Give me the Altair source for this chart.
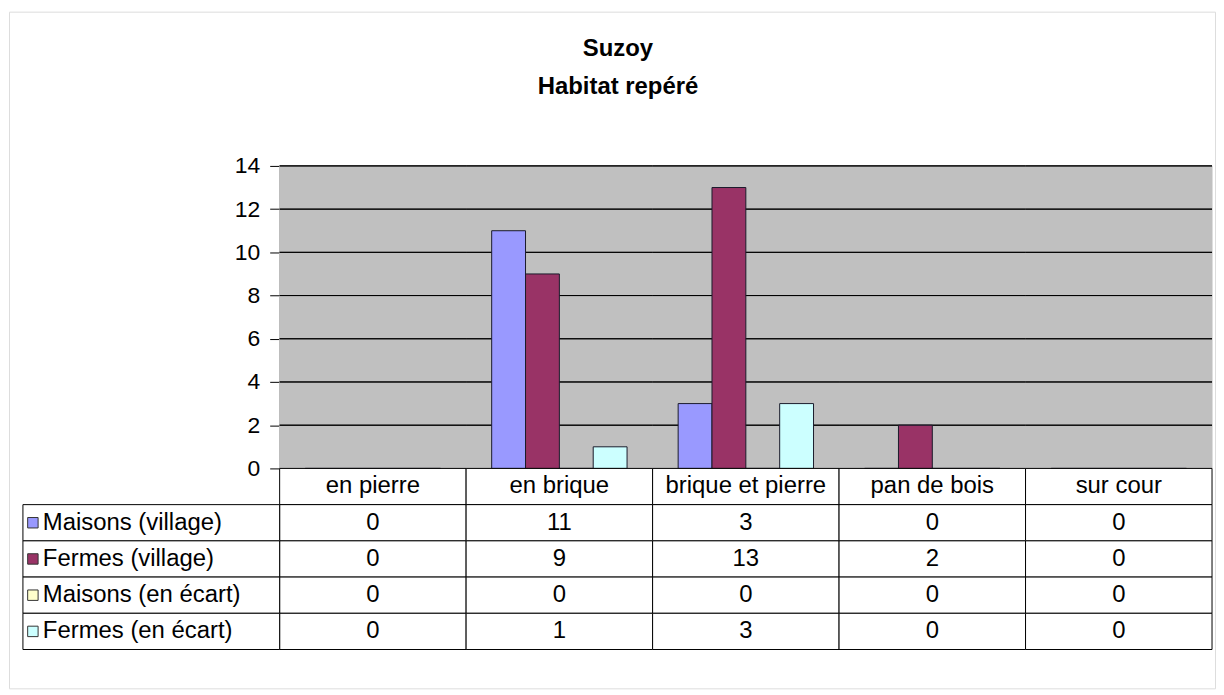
import altair as alt
import pandas as pd

# ---------------- data ----------------
categories = ["en pierre", "en brique", "brique et pierre", "pan de bois", "sur cour"]
series = ["Maisons (village)", "Fermes (village)", "Maisons (en écart)", "Fermes (en écart)"]
maisons_village = [0, 11, 3, 0, 0]
fermes_village = [0, 9, 13, 2, 0]
maisons_ecart = [0, 0, 0, 0, 0]
fermes_ecart = [0, 1, 3, 0, 0]
colors = ["#9999FF", "#993366", "#FFFFCC", "#CCFFFF"]
y_ticks = [0, 2, 4, 6, 8, 10, 12, 14]
grid_ticks = [2, 4, 6, 8, 10, 12, 14]
title_lines = ["Suzoy", "Habitat repéré"]
header_row = "catégorie"

# ---------------- tables ----------------
values = [maisons_village, fermes_village, maisons_ecart, fermes_ecart]
long_rows = []
for s, vals in zip(series, values):
    for c, v in zip(categories, vals):
        long_rows.append({"serie": s, "cat": c, "value": v})
long_df = pd.DataFrame(long_rows)

cat_df = pd.DataFrame({"cat": categories})
grid_df = pd.DataFrame([{"cat": c, "tick": t} for t in grid_ticks for c in categories])

table_rows = [{"row": header_row, "cat": c, "label": c} for c in categories]
for s, vals in zip(series, values):
    for c, v in zip(categories, vals):
        table_rows.append({"row": s, "cat": c, "label": str(v)})
table_df = pd.DataFrame(table_rows)
row_domain = [header_row] + series

legend_df = pd.DataFrame({"serie": series, "col": ["légende"] * len(series)})

# ---------------- layout (pixels inside the frame) ----------------
FONT = "Liberation Sans"
TEXT_SIZE = 24
PLOT_X = [272, 1209]
PLOT_Y = [459, 155]
TABLE_Y = [459, 641]
LEGEND_X = [14, 272]

x_scale = alt.Scale(domain=categories, range=PLOT_X, paddingInner=0, paddingOuter=0)
y_scale = alt.Scale(domain=[0, 14], range=PLOT_Y, nice=False)
row_scale = alt.Scale(domain=row_domain, range=TABLE_Y, paddingInner=0, paddingOuter=0)
fill_scale = alt.Scale(domain=series, range=colors)

y_axis = alt.Axis(values=y_ticks, grid=False, offset=-PLOT_X[0],
                  domainColor="#000000", domainWidth=1,
                  tickColor="#000000", tickSize=10, tickWidth=1,
                  labelFont=FONT, labelFontSize=23, labelColor="#000000",
                  labelPadding=10, title=None)

# ---------- bar panel ----------
bg = alt.Chart(cat_df).mark_rect(fill="#C0C0C0", stroke="#C0C0C0", strokeWidth=1).encode(
    x=alt.X("cat:N", scale=x_scale, axis=None),
    y=alt.Y("y0:Q", scale=y_scale, axis=y_axis),
    y2="y1:Q",
).transform_calculate(y0="0", y1="14")

grid = alt.Chart(grid_df).mark_rect(fillOpacity=0, stroke="#000000", strokeWidth=1).encode(
    x=alt.X("cat:N", scale=x_scale, axis=None),
    y=alt.Y("tick:Q", scale=y_scale, axis=y_axis),
    y2="tick:Q",
)

bars = alt.Chart(long_df).mark_bar(stroke="#1a1a2a", strokeWidth=1).encode(
    x=alt.X("cat:N", scale=x_scale, axis=None),
    xOffset=alt.XOffset("serie:N", sort=series,
                        scale=alt.Scale(domain=series, paddingInner=0, paddingOuter=0.755)),
    y=alt.Y("value:Q", scale=y_scale, axis=y_axis),
    fill=alt.Fill("serie:N", scale=fill_scale, legend=None),
)

bar_panel = alt.layer(bg, grid, bars)

# ---------- data table ----------
cells = alt.Chart(table_df).mark_rect(fill="#FFFFFF", stroke="#000000", strokeWidth=1).encode(
    x=alt.X("cat:N", scale=x_scale, axis=None),
    y=alt.Y("row:N", scale=row_scale, axis=None),
)
cell_text = alt.Chart(table_df).mark_text(font=FONT, fontSize=TEXT_SIZE, color="#000000",
                                           baseline="middle", align="center").encode(
    x=alt.X("cat:N", scale=x_scale, axis=None),
    y=alt.Y("row:N", scale=row_scale, axis=None),
    text="label:N",
)
table_panel = alt.layer(cells, cell_text)

# ---------- legend column ----------
leg_x_scale = alt.Scale(domain=["légende"], range=LEGEND_X, paddingInner=0, paddingOuter=0)
leg_cells = alt.Chart(legend_df).mark_rect(fill="#FFFFFF", stroke="#000000", strokeWidth=1).encode(
    x=alt.X("col:N", scale=leg_x_scale, axis=None),
    y=alt.Y("serie:N", scale=row_scale, axis=None),
)
leg_sym = alt.Chart(legend_df).mark_square(size=110, stroke="#333333", strokeWidth=1,
                                           opacity=1, xOffset=10).encode(
    x=alt.X("col:N", scale=leg_x_scale, axis=None, bandPosition=0),
    y=alt.Y("serie:N", scale=row_scale, axis=None),
    fill=alt.Fill("serie:N", scale=fill_scale, legend=None),
)
leg_text = alt.Chart(legend_df).mark_text(font=FONT, fontSize=TEXT_SIZE, color="#000000",
                                          baseline="middle", align="left", dx=20).encode(
    x=alt.X("col:N", scale=leg_x_scale, axis=None, bandPosition=0),
    y=alt.Y("serie:N", scale=row_scale, axis=None),
    text="serie:N",
)
legend_panel = alt.layer(leg_cells, leg_sym, leg_text)

chart = alt.layer(bar_panel, table_panel, legend_panel).resolve_scale(
    x="independent", y="independent"
).properties(
    width=1212,
    height=680,
    padding={"left": 1, "top": 2, "right": 1, "bottom": 1},
    autosize=alt.AutoSizeParams(type="none"),
    title=alt.TitleParams(text=title_lines, font=FONT, fontSize=24, fontWeight="bold",
                          color="#000000", anchor="middle", frame="group",
                          baseline="alphabetic", offset=-107, lineHeight=38, dx=6),
).configure_view(
    stroke="#606060", strokeWidth=2, fill="#FFFFFF"
).configure(background="#FFFFFF")

chart.save("out.html", embed_options={"renderer": "svg", "actions": False})
